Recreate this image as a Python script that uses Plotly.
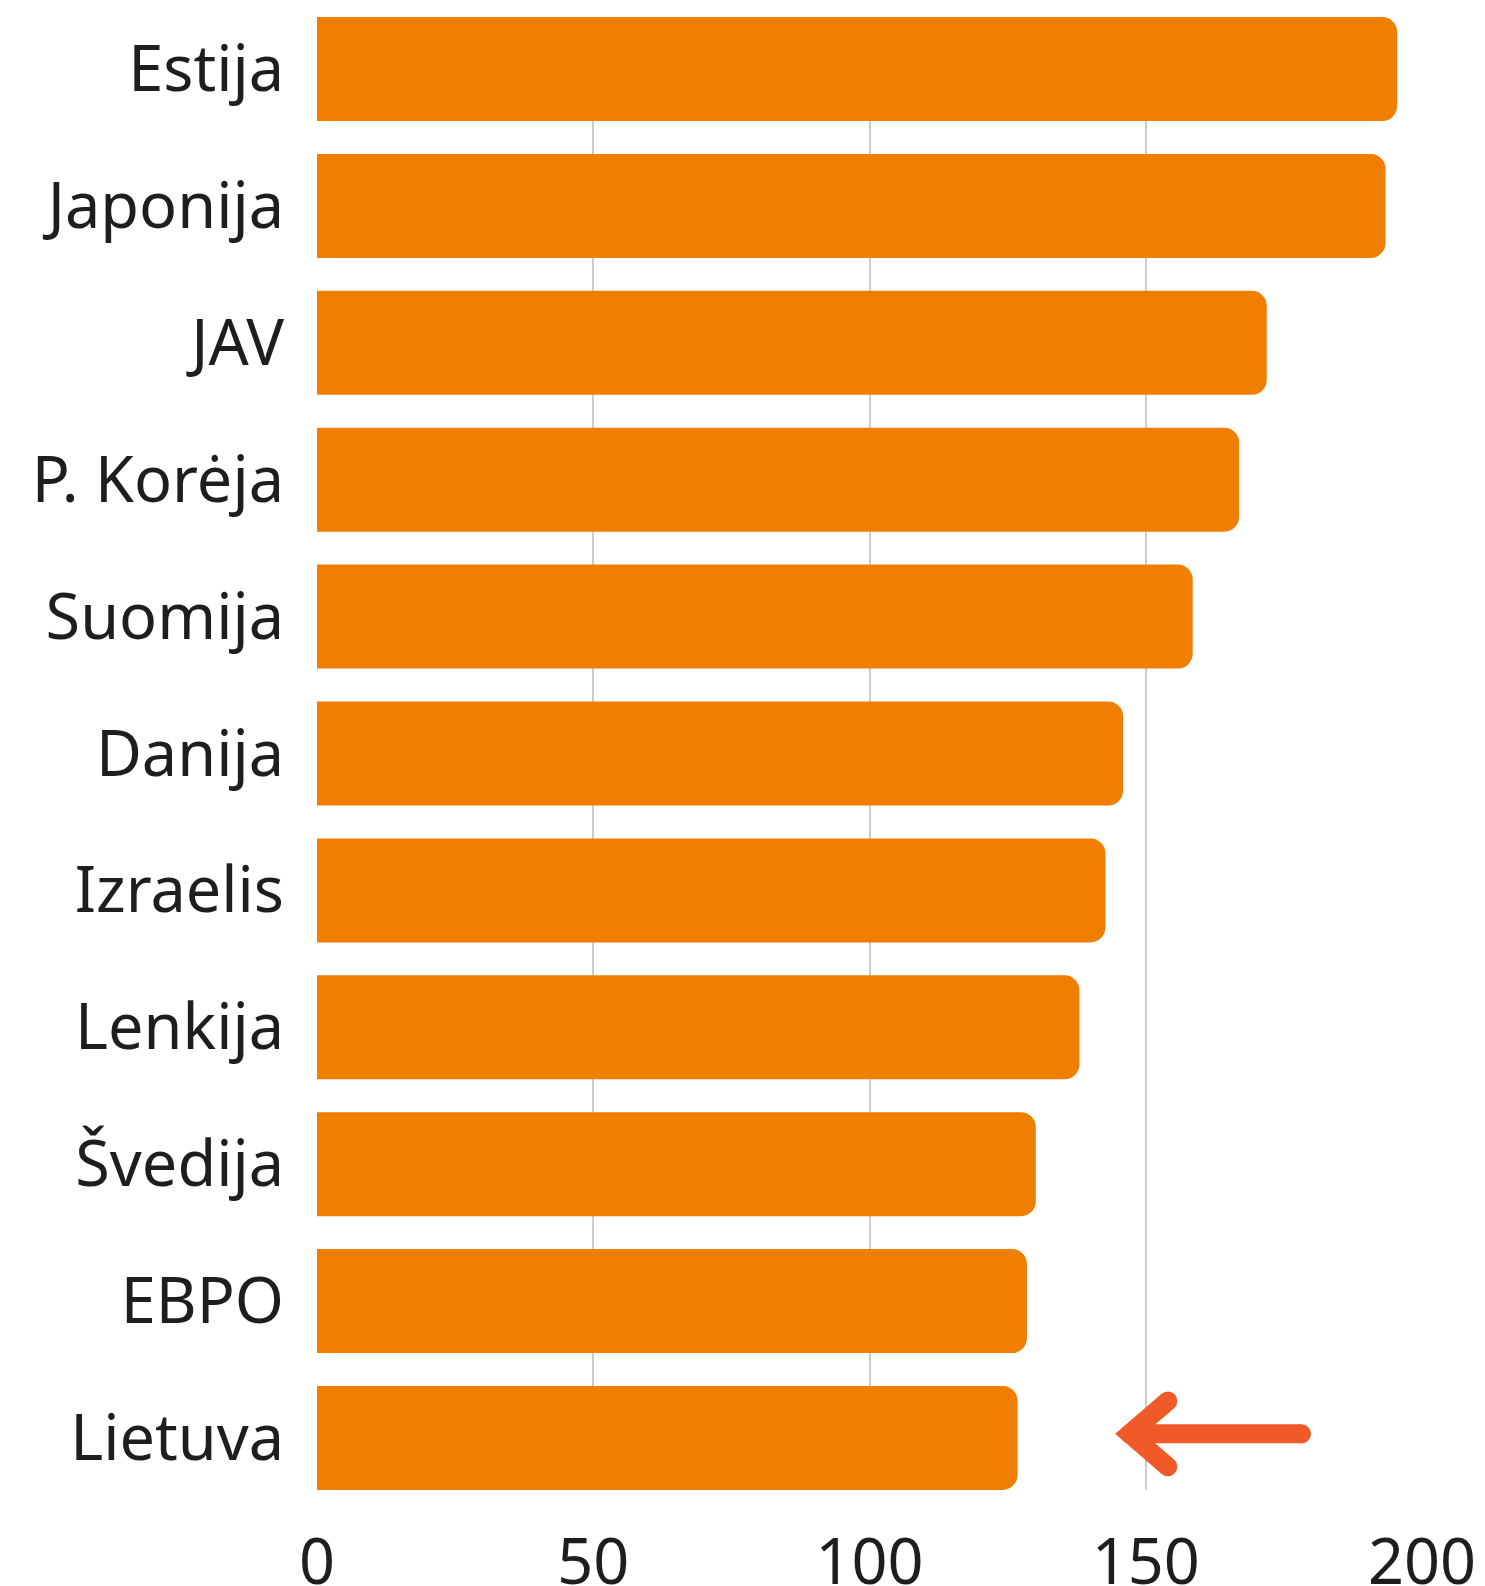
import plotly.graph_objects as go

countries = ["Estija", "Japonija", "JAV", "P. Korėja", "Suomija", "Danija",
             "Izraelis", "Lenkija", "Švedija", "EBPO", "Lietuva"]
values = [195.5, 193.4, 171.9, 166.9, 158.5, 145.9, 142.7, 138.0, 130.1, 128.5, 126.8]

x_ticks = [0, 50, 100, 150, 200]

# arrow pointing at Lietuva (x values in axis units, y offsets in category units)
arrow_shaft_x = [178.2, 147.1]
arrow_head_x = [154.0, 147.1, 154.0]
arrow_head_dy = [-0.24, 0.0, 0.24]

bar_color = "#F07E00"
arrow_color = "#F05A28"
text_color = "#1e1e1e"

pos = list(range(len(countries)))
lt = pos[countries.index("Lietuva")]

fig = go.Figure()
fig.add_trace(go.Bar(
    x=values, y=pos, orientation="h",
    marker=dict(color=bar_color, cornerradius=15, line=dict(width=0)),
    width=0.76, hoverinfo="x+y"))

fig.add_trace(go.Scatter(
    x=arrow_shaft_x, y=[lt - 0.03, lt - 0.03], mode="lines+markers",
    line=dict(color=arrow_color, width=19),
    marker=dict(color=arrow_color, size=19, line=dict(width=0)),
    hoverinfo="skip"))
fig.add_trace(go.Scatter(
    x=arrow_head_x, y=[lt - 0.03 + d for d in arrow_head_dy], mode="lines+markers",
    line=dict(color=arrow_color, width=19),
    marker=dict(color=arrow_color, size=19, line=dict(width=0)),
    hoverinfo="skip"))

# page body adds an 8px margin, so the figure is 8px smaller than the window
fig.update_layout(
    width=1477, height=1578,
    margin=dict(l=309, r=63, t=9, b=96),
    paper_bgcolor="white", plot_bgcolor="white",
    showlegend=False,
    font=dict(family="Noto Sans, Open Sans, sans-serif", size=63, color=text_color),
    xaxis=dict(range=[0, 200], tickvals=x_ticks, showgrid=True, gridcolor="#cccccc",
               gridwidth=1.5, zeroline=False, showline=False, ticks="",
               ticklabelstandoff=30, automargin=False),
    yaxis=dict(range=[len(countries) - 1 + 0.38, -0.38], tickvals=pos, ticktext=countries,
               showgrid=False, zeroline=False, showline=False, ticks="",
               ticklabelstandoff=32, automargin=False),
)

fig.write_html("out.html")
